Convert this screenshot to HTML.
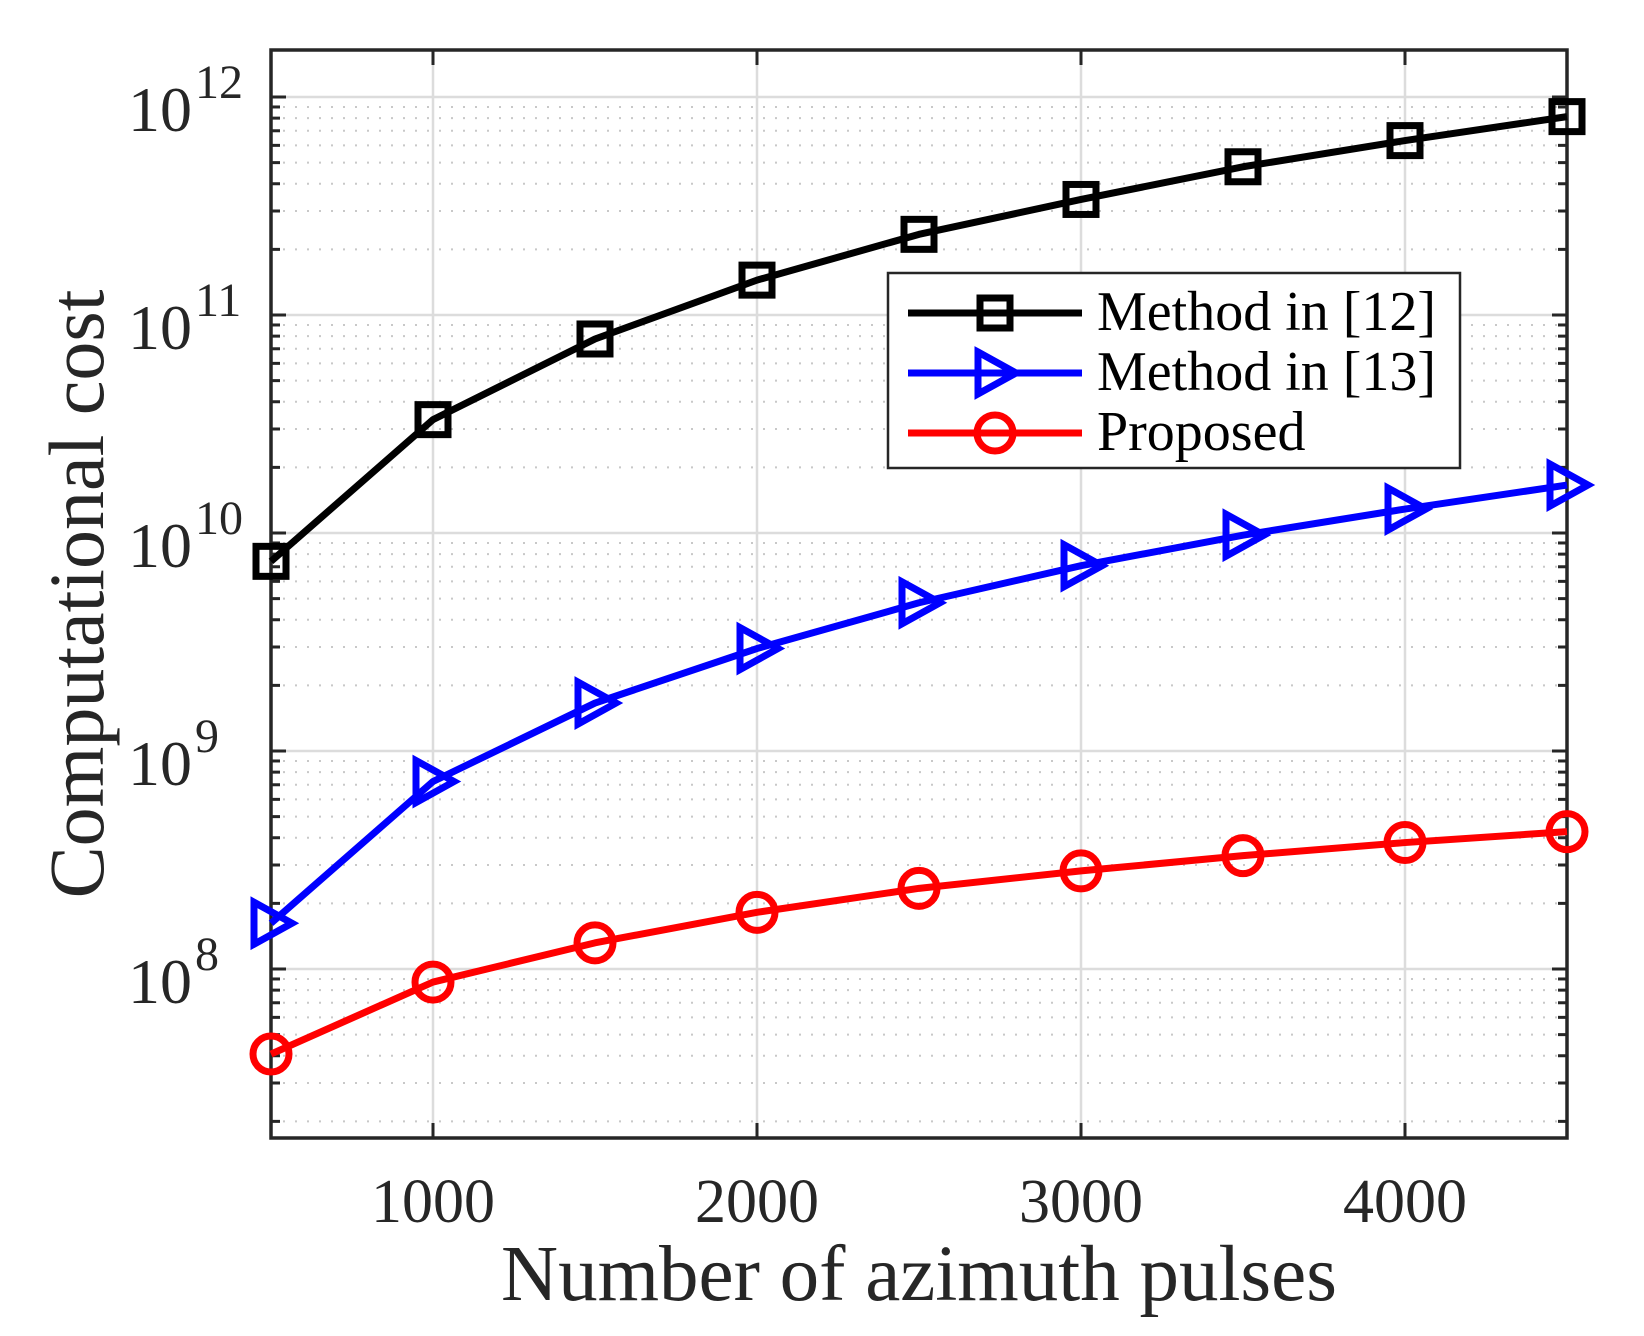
<!DOCTYPE html>
<html><head><meta charset="utf-8"><style>
html,body{margin:0;padding:0;background:#fff;}
svg{display:block;}
text{font-family:"Liberation Serif",serif;fill:#262626;}
</style></head><body>
<svg id="s" xmlns="http://www.w3.org/2000/svg" width="1644" height="1336" viewBox="0 0 1644 1336"></svg>
<script>
const L=271,R=1567,T=50,B=1138;
const X=v=>L+(v-500)/4000*(R-L);
const Y=lg=>97+(12-lg)*218;
let h='<rect x="0" y="0" width="1644" height="1336" fill="#fff"/>';
for(let e=7;e<=12;e++)for(let m=2;m<=9;m++){const y=Y(e+Math.log10(m));if(y>T&&y<B){h+=`<line x1="${L}" x2="${R}" y1="${y}" y2="${y}" stroke="#c8c8c8" stroke-width="2" stroke-dasharray="2 10"/>`;h+=`<line x1="${L}" x2="${L+9}" y1="${y}" y2="${y}" stroke="#262626" stroke-width="3"/><line x1="${R-9}" x2="${R}" y1="${y}" y2="${y}" stroke="#262626" stroke-width="3"/>`;}}
for(let e=8;e<=12;e++){const y=Y(e);h+=`<line x1="${L}" x2="${R}" y1="${y}" y2="${y}" stroke="#dcdcdc" stroke-width="2.5"/><line x1="${L}" x2="${L+15}" y1="${y}" y2="${y}" stroke="#262626" stroke-width="3"/><line x1="${R-15}" x2="${R}" y1="${y}" y2="${y}" stroke="#262626" stroke-width="3"/>`;
h+=`<text x="192" y="${y+34}" font-size="64" text-anchor="end">10</text><text x="195" y="${y+1}" font-size="48">${e}</text>`;}
for(let v=1000;v<=4000;v+=1000){const x=X(v);h+=`<line x1="${x}" x2="${x}" y1="${T}" y2="${B}" stroke="#dcdcdc" stroke-width="2.5"/><line x1="${x}" x2="${x}" y1="${B-15}" y2="${B}" stroke="#262626" stroke-width="3"/><line x1="${x}" x2="${x}" y1="${T}" y2="${T+15}" stroke="#262626" stroke-width="3"/>`;
h+=`<text x="${x}" y="1222" font-size="62" text-anchor="middle">${v}</text>`;}
h+=`<rect x="${L}" y="${T}" width="${R-L}" height="${B-T}" fill="none" stroke="#262626" stroke-width="3.5"/>`;
const xs=[500,1000,1500,2000,2500,3000,3500,4000,4500];
const blk=[9.87,10.52,10.89,11.16,11.37,11.53,11.68,11.80,11.91];
const blu=[8.21,8.86,9.22,9.47,9.68,9.85,9.99,10.11,10.22];
const red=[7.61,7.94,8.12,8.26,8.37,8.45,8.52,8.58,8.63];
function line(d,c){return `<polyline fill="none" stroke="${c}" stroke-width="7" stroke-linejoin="round" points="${d.map((l,i)=>X(xs[i])+','+Y(l)).join(' ')}"/>`;}
const sq=(x,y)=>`<rect x="${x-15}" y="${y-15}" width="30" height="30" fill="none" stroke="#000" stroke-width="7"/>`;
const tri=(x,y)=>`<polygon points="${x-17},${y-21} ${x+21},${y} ${x-17},${y+21}" fill="none" stroke="#00f" stroke-width="7"/>`;
const cir=(x,y)=>`<circle cx="${x}" cy="${y}" r="18" fill="none" stroke="#f00" stroke-width="7"/>`;
h+=line(blk,'#000')+line(blu,'#00f')+line(red,'#f00');
xs.forEach((v,i)=>{h+=sq(X(v),Y(blk[i]))+tri(X(v),Y(blu[i]))+cir(X(v),Y(red[i]));});
h+=`<rect x="888" y="273" width="572" height="195" fill="#fff" stroke="#262626" stroke-width="2.5"/>`;
const rows=[[313,'#000','Method in [12]',sq],[373,'#00f','Method in [13]',tri],[433,'#f00','Proposed',cir]];
rows.forEach(r=>{h+=`<line x1="908" x2="1082" y1="${r[0]}" y2="${r[0]}" stroke="${r[1]}" stroke-width="7"/>`+r[3](995,r[0])+`<text x="1097" y="${r[0]+17}" font-size="56" style="fill:#000">${r[2]}</text>`;});
h+=`<text x="${(L+R)/2}" y="1300" font-size="79" text-anchor="middle">Number of azimuth pulses</text>`;
h+=`<text transform="translate(103,${(T+B)/2}) rotate(-90)" font-size="78" text-anchor="middle">Computational cost</text>`;
document.getElementById('s').innerHTML=h;
</script>
</body></html>
